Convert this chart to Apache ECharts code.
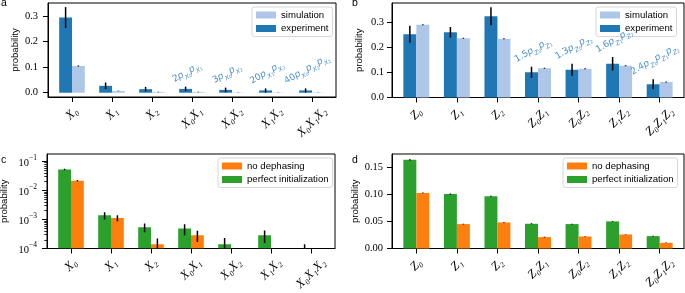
<!DOCTYPE html>
<html><head><meta charset="utf-8">
<script src="https://cdn.jsdelivr.net/npm/echarts@6/dist/echarts.min.js"></script>
<style>html,body{margin:0;padding:0;background:#fff}#c{width:685px;height:293px}</style>
</head><body><div id="c"></div>
<script>
// ---------- data ----------
const catsX = ['X₀','X₁','X₂','X₀X₁','X₀X₂','X₁X₂','X₀X₁X₂'];
const catsZ = ['Z₀','Z₁','Z₂','Z₀Z₁','Z₀Z₂','Z₁Z₂','Z₀Z₁Z₂'];
const catPos = [0,1,2,3,4,5,6];

// panel a
const aExp    = [0.295, 0.027, 0.014, 0.015, 0.011, 0.009, 0.009];
const aExpErr = [0.041, 0.013, 0.009, 0.009, 0.009, 0.008, 0.008];
const aSim    = [0.105, 0.007, 0.003, 0.003, 0.001, 0.001, 0.001];
const aSimErr = [0.002, 0.001, 0.001, 0.001, 0.0006, 0.0006, 0.0006];
const aNoteCoef = [null, null, null, '2', '3', '20', '40'];
const aNoteIdx  = [null, null, null, [0,1], [0,2], [1,2], [0,1,2]];

// panel b
const bExp    = [0.253, 0.261, 0.325, 0.101, 0.111, 0.135, 0.053];
const bExpErr = [0.034, 0.021, 0.036, 0.022, 0.024, 0.027, 0.020];
const bSim    = [0.291, 0.237, 0.235, 0.117, 0.115, 0.127, 0.062];
const bSimErr = [0.002, 0.002, 0.002, 0.002, 0.002, 0.002, 0.002];
const bNoteCoef = [null, null, null, '1.5', '1.3', '1.6', '2.4'];
const bNoteIdx  = [null, null, null, [0,1], [0,2], [1,2], [0,1,2]];

// panel c (log)
const cPerf       = [0.053, 0.00139, 0.00054, 0.000485, 0.000141, 0.000286, 0.00005];
const cPerfErr    = [0.003, 0.0004, 0.00018, 0.0002, 0.00009, 0.00013, 0.00009];
const cNoDeph     = [0.0217, 0.00113, 0.000141, 0.000286, 0, 0, 0];
const cNoDephErr  = [0.001, 0.00027, 0.00008, 0.00012, 0, 0, 0];

// panel d
const dPerf      = [0.1642, 0.1010, 0.0967, 0.0458, 0.0452, 0.0502, 0.0229];
const dPerfErr   = [0.0012, 0.0010, 0.0010, 0.0008, 0.0008, 0.0008, 0.0006];
const dNoDeph    = [0.1029, 0.0452, 0.0483, 0.0211, 0.0223, 0.0260, 0.0105];
const dNoDephErr = [0.0008, 0.0006, 0.0006, 0.0005, 0.0005, 0.0005, 0.0004];

// tick values
const aTicks = [0, 0.1, 0.2, 0.3];
const bTicks = [0, 0.1, 0.2, 0.3];
const cTicks = [1e-4, 1e-3, 1e-2, 1e-1];
const cMinor = [2e-4,3e-4,4e-4,5e-4,6e-4,7e-4,8e-4,9e-4,2e-3,3e-3,4e-3,5e-3,6e-3,7e-3,8e-3,9e-3,2e-2,3e-2,4e-2,5e-2,6e-2,7e-2,8e-2,9e-2];
const dTicks = [0, 0.05, 0.10, 0.15];

// ---------- styling ----------
const C_EXP = '#1f77b4', C_SIM = '#aec7e8', C_GREEN = '#2ca02c', C_ORANGE = '#ff7f0e', C_NOTE = '#4a92c9';
const SANS = 'Liberation Sans', SERIF = 'Liberation Serif';
const FS_X = 12.5;
const mctx = document.createElement('canvas').getContext('2d');
function textW(t, font){ mctx.font = font; return mctx.measureText(t).width; }

function xRich(cats){
  const rich = {};
  cats.forEach((c, i) => {
    const L = textW(c, 'italic ' + FS_X + 'px "' + SERIF + '"');
    const p = (L + FS_X) / 2;
    rich['l' + i] = {fontFamily: SERIF, fontStyle: 'italic', fontSize: FS_X, color: '#000', padding: [p, p, 0, 0]};
  });
  return rich;
}

function xAxisDef(gi, cats){
  return {type: 'value', gridIndex: gi, min: -0.6, max: 6.6,
    axisLine: {show: true, onZero: false, lineStyle: {color: '#000', width: 1}},
    axisTick: {show: true, length: 5, customValues: catPos, lineStyle: {color: '#000', width: 1}},
    axisLabel: {show: true, customValues: catPos, rotate: 45, align: 'center', verticalAlign: 'middle', margin: 8,
      formatter: v => '{l' + Math.round(v) + '|' + cats[Math.round(v)] + '}', rich: xRich(cats)},
    splitLine: {show: false}};
}

function nameStyle(){ return {fontFamily: SANS, fontSize: 9.5, color: '#000'}; }

function yLin(gi, min, max, ticks, dec, gap, margin){
  return {type: 'value', gridIndex: gi, min: min, max: max, name: 'probability', nameLocation: 'middle', nameGap: gap, nameRotate: 90,
    nameTextStyle: nameStyle(),
    axisLine: {show: true, onZero: false, lineStyle: {color: '#000', width: 1}},
    axisTick: {show: true, length: 5, customValues: ticks, lineStyle: {color: '#000', width: 1}},
    axisLabel: {customValues: ticks, margin: margin, formatter: v => v.toFixed(dec), fontFamily: SERIF, fontSize: 10.5, color: '#000'},
    splitLine: {show: false}};
}

const grids = [
  {left: 48, top: 3, width: 288, height: 94},
  {left: 392, top: 3, width: 292, height: 94.5},
  {left: 47, top: 154, width: 288, height: 94.5},
  {left: 392, top: 154, width: 292, height: 94.5}
].map(g => Object.assign(g, {show: true, borderColor: '#000', borderWidth: 1, backgroundColor: 'transparent', containLabel: false, outerBoundsMode: 'none'}));

const xAxes = [xAxisDef(0, catsX), xAxisDef(1, catsZ), xAxisDef(2, catsX), xAxisDef(3, catsZ)];

const yAxes = [
  yLin(0, -0.0168, 0.352, aTicks, 1, 28, 10),
  yLin(1, 0, 0.378, bTicks, 1, 28, 8),
  {type: 'log', logBase: 10, gridIndex: 2, min: 1e-4, max: 0.18, position: 'left', name: 'probability', nameLocation: 'middle', nameGap: 38, nameRotate: 90,
    nameTextStyle: nameStyle(),
    axisLine: {show: true, onZero: false, lineStyle: {color: '#000', width: 1}},
    axisTick: {show: true, length: 5, customValues: cTicks, lineStyle: {color: '#000', width: 1}},
    axisLabel: {customValues: cTicks, margin: 10, color: '#000',
      formatter: v => '{b|10}{e|−' + Math.abs(Math.round(Math.log10(v))) + '}',
      rich: {b: {fontFamily: SERIF, fontSize: 10.5, lineHeight: 14, verticalAlign: 'bottom', color: '#000'},
             e: {fontFamily: SERIF, fontSize: 7.5, lineHeight: 7.5, verticalAlign: 'top', color: '#000'}}},
    splitLine: {show: false}},
  {type: 'log', logBase: 10, gridIndex: 2, min: 1e-4, max: 0.18, position: 'left',
    axisLine: {show: false, onZero: false},
    axisTick: {show: true, length: 2.8, customValues: cMinor, lineStyle: {color: '#000', width: 0.8}},
    axisLabel: {show: false}, splitLine: {show: false}},
  yLin(3, 0, 0.175, dTicks, 2, 32, 9)
];

function barS(name, xi, yi, vals, color){
  return {type: 'bar', name: name, xAxisIndex: xi, yAxisIndex: yi, data: vals.map((v, i) => [catPos[i], v]),
    barWidth: '32%', barGap: '0%', itemStyle: {color: color}, silent: true};
}

function errS(xi, yi, vals, errs, off, lw, isLog){
  return {type: 'custom', xAxisIndex: xi, yAxisIndex: yi, clip: true, z: 5, silent: true,
    data: vals.map((v, i) => [catPos[i], v, errs[i]]).filter(d => d[2] > 0 && d[1] > 0),
    encode: {x: 0, y: 1},
    renderItem: (params, api) => {
      const x = api.value(0) + off, v = api.value(1), e = api.value(2);
      let lo = v - e; if (isLog && lo <= 0) lo = 1e-9;
      const p1 = api.coord([x, lo]), p2 = api.coord([x, v + e]);
      return {type: 'line', shape: {x1: p1[0], y1: p1[1], x2: p2[0], y2: p2[1]}, style: {stroke: '#000', lineWidth: lw}};
    }};
}

function logBarS(name, vals, color, off0, off1){
  return {type: 'custom', name: name, xAxisIndex: 2, yAxisIndex: 2, clip: true, silent: true, itemStyle: {color: color},
    data: vals.map((v, i) => [catPos[i], v]).filter(d => d[1] > 0),
    encode: {x: 0, y: 1},
    renderItem: (params, api) => {
      const x = api.value(0), v = api.value(1);
      const p0 = api.coord([x + off0, v]), p1 = api.coord([x + off1, v]);
      const bottom = params.coordSys.y + params.coordSys.height;
      if (p0[1] >= bottom) return null;
      return {type: 'rect', shape: {x: p0[0], y: p0[1], width: p1[0] - p0[0], height: bottom - p0[1]}, style: {fill: color}};
    }};
}

const NFS = 9, SFS = 6.3, SSFS = 4.5;
const noteRich = {
  n: {fontFamily: 'DejaVu Sans', fontSize: NFS, lineHeight: 12, verticalAlign: 'top', fill: C_NOTE},
  p: {fontFamily: 'DejaVu Sans', fontStyle: 'italic', fontSize: NFS, lineHeight: 12, verticalAlign: 'top', fill: C_NOTE},
  s: {fontFamily: 'DejaVu Sans', fontStyle: 'italic', fontSize: SFS, lineHeight: 6.3, verticalAlign: 'bottom', fill: C_NOTE},
  ss: {fontFamily: 'DejaVu Sans', fontSize: SSFS, lineHeight: 3, verticalAlign: 'bottom', fill: C_NOTE}
};
function noteS(xi, yi, exp, err, coefs, idxs, letter){
  const data = [];
  coefs.forEach((c, i) => { if (c) data.push([catPos[i], exp[i] + err[i], i]); });
  return {type: 'custom', xAxisIndex: xi, yAxisIndex: yi, clip: false, z: 6, silent: true, data: data, encode: {x: 0, y: 1},
    renderItem: (params, api) => {
      const i = api.value(2);
      const c = coefs[i], idx = idxs[i];
      let str = '{n|' + c + '}';
      let L = textW(c, NFS + 'px "DejaVu Sans"');
      idx.forEach(k => {
        str += '{p|p}{s|' + letter + '}{ss|' + k + '}';
        L += textW('p', 'italic ' + NFS + 'px "DejaVu Sans"') + textW(letter, 'italic ' + SFS + 'px "DejaVu Sans"') + textW(String(k), SSFS + 'px "DejaVu Sans"');
      });
      const th = Math.PI / 6, h = 10;
      const H = L * Math.sin(th) + h * Math.cos(th);
      const p = api.coord([api.value(0) - 0.16, api.value(1)]);
      return {type: 'text', x: p[0] + 2, y: p[1] - H / 2 - 1, rotation: th,
        style: {text: str, rich: noteRich, align: 'center', verticalAlign: 'middle', fill: C_NOTE}};
    }};
}

const series = [
  barS('experiment', 0, 0, aExp, C_EXP),
  barS('simulation', 0, 0, aSim, C_SIM),
  errS(0, 0, aExp, aExpErr, -0.16, 1.5, false),
  errS(0, 0, aSim, aSimErr, 0.16, 1.5, false),
  noteS(0, 0, aExp, aExpErr, aNoteCoef, aNoteIdx, 'X'),

  barS('experiment', 1, 1, bExp, C_EXP),
  barS('simulation', 1, 1, bSim, C_SIM),
  errS(1, 1, bExp, bExpErr, -0.16, 1.5, false),
  errS(1, 1, bSim, bSimErr, 0.16, 1.5, false),
  noteS(1, 1, bExp, bExpErr, bNoteCoef, bNoteIdx, 'Z'),

  logBarS('perfect initialization', cPerf, C_GREEN, -0.32, 0),
  logBarS('no dephasing', cNoDeph, C_ORANGE, 0, 0.32),
  errS(2, 2, cPerf, cPerfErr, -0.16, 1.5, true),
  errS(2, 2, cNoDeph, cNoDephErr, 0.16, 1.5, true),

  barS('perfect initialization', 3, 4, dPerf, C_GREEN),
  barS('no dephasing', 3, 4, dNoDeph, C_ORANGE),
  errS(3, 4, dPerf, dPerfErr, -0.16, 1.5, false),
  errS(3, 4, dNoDeph, dNoDephErr, 0.16, 1.5, false)
];

function legendDef(left, top, names){
  return {left: left, top: top, orient: 'vertical', data: names, icon: 'rect', itemWidth: 20, itemHeight: 7, itemGap: 2.5,
    padding: [2.5, 4, 2.5, 4], backgroundColor: 'rgba(255,255,255,0.8)', borderColor: '#cccccc', borderWidth: 0.8, borderRadius: 2.5,
    selectedMode: false, textStyle: {fontFamily: SANS, fontSize: 9.6, lineHeight: 11, color: '#000'}};
}

function letter(t, left, top){
  return {text: t, left: left, top: top, padding: 0, textStyle: {fontFamily: SANS, fontSize: 10.5, fontWeight: 'normal', color: '#000'}};
}

const option = {
  animation: false,
  backgroundColor: '#fff',
  textStyle: {fontFamily: SANS},
  title: [letter('a', 1, -2), letter('b', 352, -2), letter('c', 1, 155), letter('d', 352, 155)],
  legend: [
    legendDef(252, 7, ['simulation', 'experiment']),
    legendDef(596, 7, ['simulation', 'experiment']),
    legendDef(218, 158, ['no dephasing', 'perfect initialization']),
    legendDef(563, 158, ['no dephasing', 'perfect initialization'])
  ],
  grid: grids,
  xAxis: xAxes,
  yAxis: yAxes,
  series: series
};
const chart = echarts.init(document.getElementById('c'), null, {renderer: 'canvas'});
chart.setOption(option);
</script>
</body></html>
